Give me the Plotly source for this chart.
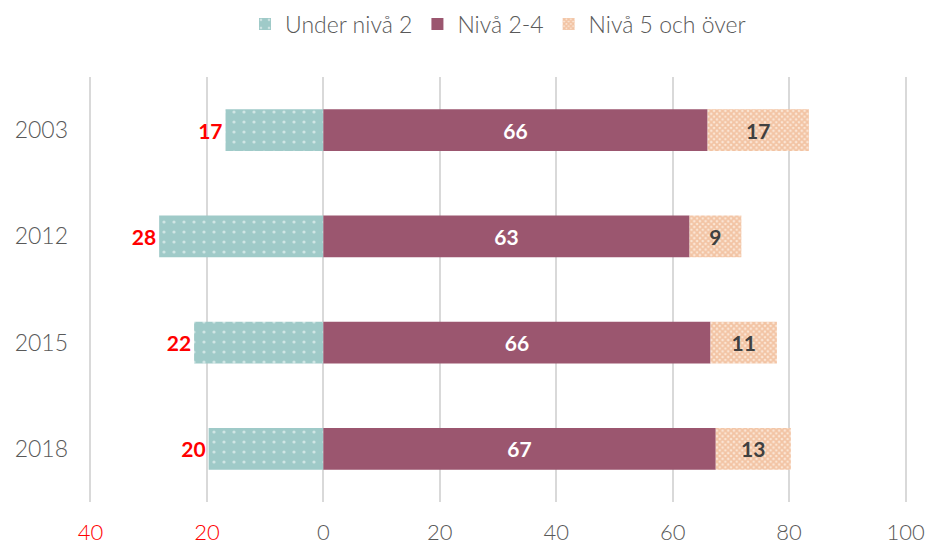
import plotly.graph_objects as go

years = ["2003", "2012", "2015", "2018"]
under2 = [16.8, 28.2, 22.2, 19.7]
niva24 = [66.0, 62.9, 66.5, 67.4]
niva5 = [17.4, 8.9, 11.4, 12.9]
under2_labels = ["17", "28", "22", "20"]
niva24_labels = ["66", "63", "66", "67"]
niva5_labels = ["17", "9", "11", "13"]
x_tickvals = [-40, -20, 0, 20, 40, 60, 80, 100]
x_ticktext = ["<span style='color:#FF0000'>40</span>", "<span style='color:#FF0000'>20</span>",
              "0", "20", "40", "60", "80", "100"]

FONT = "Lato"
fig = go.Figure()
fig.add_trace(go.Bar(
    y=years, x=[-v for v in under2], orientation="h", name="Under nivå 2",
    marker=dict(color="#9FCAC8", line=dict(width=0),
                pattern=dict(shape=".", fgcolor="white", bgcolor="#9FCAC8", size=10, solidity=0.08)),
    text=under2_labels, textposition="outside", cliponaxis=False,
    textfont=dict(color="#FF0000", size=21, family=FONT, weight="bold"),
    hoverinfo="skip",
))
fig.add_trace(go.Bar(
    y=years, x=niva24, orientation="h", name="Nivå 2-4",
    marker=dict(color="#9B566F", line=dict(width=0)),
    text=niva24_labels, textposition="inside", insidetextanchor="middle",
    textfont=dict(color="white", size=21, family=FONT, weight="bold"),
    hoverinfo="skip",
))
fig.add_trace(go.Bar(
    y=years, x=niva5, orientation="h", name="Nivå 5 och över",
    marker=dict(color="#EDA878", line=dict(width=0),
                pattern=dict(shape="x", fgcolor="#E9A06F", bgcolor="#FBE6D6", size=4, solidity=0.7)),
    text=niva5_labels, textposition="inside", insidetextanchor="middle",
    textfont=dict(color="#404040", size=21, family=FONT, weight="bold"),
    hoverinfo="skip",
))

fig.update_layout(
    width=928, height=544,
    margin=dict(l=89, r=21, t=77, b=42, autoexpand=False),
    barmode="relative", bargap=0.605,
    plot_bgcolor="white", paper_bgcolor="white",
    font=dict(family=FONT, color="#595959", size=21),
    uniformtext=dict(mode="show", minsize=10),
    legend=dict(orientation="h", x=0.5, xanchor="center", y=0.956, yanchor="middle",
                yref="container", font=dict(size=23, color="#595959", weight=300),
                traceorder="normal"),
    showlegend=True,
)
fig.update_xaxes(range=[-40.25, 100.25], tickvals=x_tickvals, ticktext=x_ticktext,
                 showgrid=True, gridcolor="#D9D9D9", gridwidth=2,
                 zeroline=True, zerolinecolor="#D9D9D9", zerolinewidth=2,
                 ticks="", ticklabelstandoff=15, tickfont=dict(size=22, color="#595959", weight=300),
                 showline=False, fixedrange=True, automargin=False)
fig.update_yaxes(type="category", autorange="reversed", showgrid=False, ticks="",
                 ticklabelstandoff=20, tickfont=dict(size=23, color="#595959", weight=300),
                 showline=False, automargin=False, fixedrange=True)

fig.write_html("out.html", config={"displayModeBar": False, "staticPlot": True},
               post_script="document.body.style.margin='0';document.body.style.overflow='hidden';")
